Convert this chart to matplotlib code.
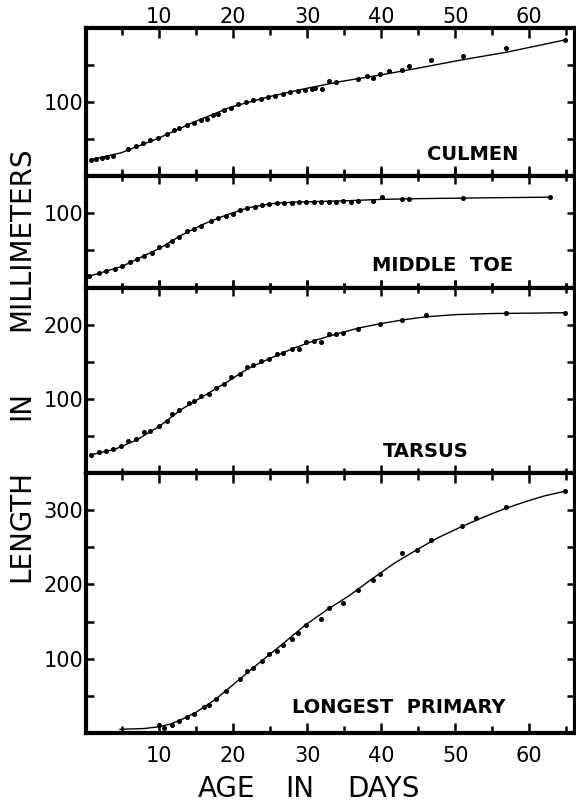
import matplotlib
matplotlib.use("Agg")
import matplotlib.pyplot as plt
from matplotlib.ticker import FixedLocator

plt.rcParams['font.family'] = ['DejaVu Sans']

# culmen: measured points and hand-read fitted curve
culmen_day = [0.8, 1.5, 2.3, 3.0, 3.8, 5.8, 6.8, 7.8, 8.8, 9.8, 11.0, 12.0, 12.7, 13.7,
              14.7, 15.7, 16.5, 17.2, 18.0, 18.7, 19.7, 20.7, 21.7, 22.7, 23.7, 24.7,
              25.7, 26.7, 27.7, 28.7, 29.7, 30.6, 31.1, 32.0, 32.9, 33.9, 36.9, 38.1,
              38.9, 39.9, 41.1, 42.8, 43.8, 46.8, 51.0, 56.9, 64.9]
culmen_mm = [61.1, 61.6, 62.0, 62.9, 63.8, 68.5, 70.1, 72.4, 74.2, 76.0, 78.7, 80.9, 82.7,
             84.5, 85.8, 87.6, 88.8, 91.0, 92.1, 94.4, 96.2, 98.4, 99.8, 101.1, 102.0,
             103.4, 103.8, 105.2, 106.5, 107.4, 108.3, 108.8, 109.7, 109.0, 114.2, 113.5,
             115.5, 117.3, 116.4, 118.7, 120.9, 121.8, 124.0, 128.1, 130.8, 136.6, 142.0]
culmen_fit_day = [0.8, 4.8, 9.8, 14.7, 19.7, 24.7, 29.7, 34.6, 39.6, 44.6, 50.5, 57.0, 64.9]
culmen_fit_mm = [61.1, 65.6, 75.3, 86.5, 96.6, 103.4, 109.0, 113.9, 118.0, 122.5, 128.1, 133.7, 142.0]

# middle toe
toe_day = [0.55, 1.8, 2.8, 4.0, 5.0, 6.0, 7.0, 8.0, 9.0, 10.0, 11.0, 11.7, 12.7, 13.7, 14.7,
           15.7, 17.0, 18.0, 19.0, 20.0, 20.9, 21.9, 22.9, 23.9, 24.9, 25.9, 26.9, 27.9,
           28.9, 29.9, 30.9, 31.9, 32.9, 33.9, 34.9, 35.9, 36.9, 38.9, 40.1, 42.8, 43.8,
           51.0, 62.8]
toe_mm = [57.3, 59.5, 60.9, 62.3, 64.1, 67.0, 68.6, 70.9, 73.2, 76.8, 78.4, 81.4, 84.1, 87.5,
          89.1, 91.4, 94.3, 96.6, 98.2, 99.5, 102.3, 103.4, 104.1, 105.7, 106.4, 106.8,
          107.0, 107.0, 107.5, 107.5, 107.7, 107.5, 107.7, 107.7, 108.0, 107.7, 108.0,
          108.0, 110.9, 109.5, 109.5, 109.8, 110.7]
toe_fit_day = [0.55, 5, 10, 13, 16, 19, 22, 25, 28, 31, 35, 40, 45, 50, 55, 62.8]
toe_fit_mm = [57.3, 64, 76, 85, 92.5, 98.5, 103.5, 106.2, 107.3, 107.7, 108.2, 109.2, 109.7,
              110, 110.3, 110.7]

# tarsus
tarsus_day = [0.8, 1.8, 2.8, 3.8, 4.8, 5.8, 6.8, 8.0, 8.8, 10.0, 11.0, 11.7, 12.7, 14.0,
              14.7, 15.7, 16.7, 17.7, 18.7, 19.7, 20.9, 21.9, 22.7, 23.7, 24.9, 25.9, 26.7,
              27.9, 28.9, 29.9, 30.9, 31.9, 32.9, 33.9, 34.9, 36.9, 39.9, 42.8, 46.1, 56.9,
              64.9]
tarsus_mm = [24.7, 28.3, 29.6, 31.8, 35.9, 42.6, 46.2, 55.2, 57.4, 64.1, 70.9, 79.8, 85.7,
             94.6, 97.8, 104.5, 106.7, 114.3, 120.2, 129.1, 133.6, 142.6, 145.7, 151.6,
             153.8, 160.5, 162.8, 167.3, 167.3, 177.1, 178.5, 177.1, 187.4, 187.4, 189.7,
             195.1, 200.9, 206.7, 213.0, 215.7, 216.6]
tarsus_fit_day = [0.8, 4, 7, 10, 13, 16, 19, 22, 25, 28, 31, 34, 37, 40, 43, 46, 50, 55, 60, 64.9]
tarsus_fit_mm = [24.7, 32, 45, 63, 86, 104, 122, 141, 155, 168, 179, 188, 196, 202, 207, 211,
                 214, 215.5, 216, 216.6]

# longest primary
primary_day = [10.0, 10.7, 11.7, 12.7, 13.7, 14.7, 16.0, 16.7, 17.7, 19.0, 20.9, 21.9, 22.7,
               23.9, 24.9, 25.9, 26.7, 27.9, 28.7, 29.9, 31.9, 32.9, 34.9, 36.9, 38.9, 39.9,
               42.8, 44.8, 46.8, 50.9, 52.8, 56.9, 64.9]
primary_mm = [10.1, 7.4, 10.1, 15.5, 22.2, 25.4, 34.4, 38.0, 46.1, 56.9, 73.0, 83.8, 87.4,
              97.3, 106.3, 110.8, 118.9, 127.0, 134.6, 145.8, 153.9, 168.3, 175.1, 193.0,
              206.5, 214.2, 242.5, 247.0, 260.4, 278.4, 288.8, 304.0, 325.6]
primary_fit_day = [4.7, 8, 10, 11.5, 13, 15, 17.7, 20.7, 23.7, 26.7, 29.7, 32.7, 35.7, 38.7,
                   41.7, 44.7, 47.7, 50.7, 53.7, 56.7, 59.7, 62, 64.9]
primary_fit_mm = [5, 6, 8.5, 12, 18, 28, 46, 71, 96, 120, 145, 166, 185, 207, 228, 246, 263,
                  277, 290, 302, 312, 319, 325.6]

panels = [
    ("CULMEN", culmen_day, culmen_mm, culmen_fit_day, culmen_fit_mm,
     (50, 150), [75, 100, 125], [100]),
    ("MIDDLE  TOE", toe_day, toe_mm, toe_fit_day, toe_fit_mm,
     (49.3, 125), [75, 100], [100]),
    ("TARSUS", tarsus_day, tarsus_mm, tarsus_fit_day, tarsus_fit_mm,
     (0, 250), [50, 100, 150, 200], [100, 200]),
    ("LONGEST  PRIMARY", primary_day, primary_mm, primary_fit_day, primary_fit_mm,
     (0, 350), [50, 100, 150, 200, 250, 300], [100, 200, 300]),
]

W, H = 576, 805
edges = [28, 176, 288, 473, 733]   # pixel rows of panel borders
label_pos = [(473, 154), (443, 265), (426, 451), (399, 707)]

fig = plt.figure(figsize=(W / 100, H / 100), dpi=100)
x0, x1 = 86, 575

for i, (name, d, v, fd, fv, ylim, yt, ylab) in enumerate(panels):
    top, bot = edges[i], edges[i + 1]
    ax = fig.add_axes([x0 / W, 1 - bot / H, (x1 - x0) / W, (bot - top) / H])
    ax.plot(fd, fv, color='black', lw=1.0, zorder=2)
    ax.plot(d, v, 'o', color='black', ms=2.6, mec='black', zorder=3)
    ax.set_xlim(0.1, 66.2)
    ax.set_ylim(*ylim)
    for s in ax.spines.values():
        s.set_linewidth(3)
    ax.xaxis.set_major_locator(FixedLocator([10, 20, 30, 40, 50, 60]))
    ax.xaxis.set_minor_locator(FixedLocator([5, 15, 25, 35, 45, 55, 65]))
    ax.yaxis.set_major_locator(FixedLocator(yt))
    ax.set_yticklabels([str(t) if t in ylab else '' for t in yt])
    ax.tick_params(axis='y', which='major', direction='in', length=6, width=1.8,
                   left=True, right=True, labelsize=15, pad=2)
    ax.tick_params(axis='x', which='both', top=True, bottom=True,
                   labeltop=(i == 0), labelbottom=(i == 3), labelsize=15, width=1.8)
    # inner borders carry ticks crossing both sides
    ax.tick_params(axis='x', which='major', direction='inout', length=11)
    ax.tick_params(axis='x', which='minor', direction='inout', length=7)
    if i == 0:
        ax.tick_params(axis='x', which='major', direction='in', length=7, pad=1)
        ax.tick_params(axis='x', which='minor', direction='in', length=5)
    if i == 3:
        ax.tick_params(axis='x', which='major', direction='in', length=7, pad=9)
        ax.tick_params(axis='x', which='minor', direction='in', length=5)
    lx, ly = label_pos[i]
    fig.text(lx / W, 1 - ly / H, name, ha='center', va='center', fontsize=14,
             fontweight='bold')

# axis titles, word by word as spaced in the original lettering
for word, y in (("LENGTH", 526), ("IN", 405), ("MILLIMETERS", 239)):
    fig.text(21 / W, 1 - y / H, word, rotation=90, ha='center', va='center', fontsize=20)
for word, x in (("AGE", 227), ("IN", 300), ("DAYS", 383)):
    fig.text(x / W, 1 - 789 / H, word, ha='center', va='center', fontsize=20)

fig.savefig("out.png", dpi=100)
